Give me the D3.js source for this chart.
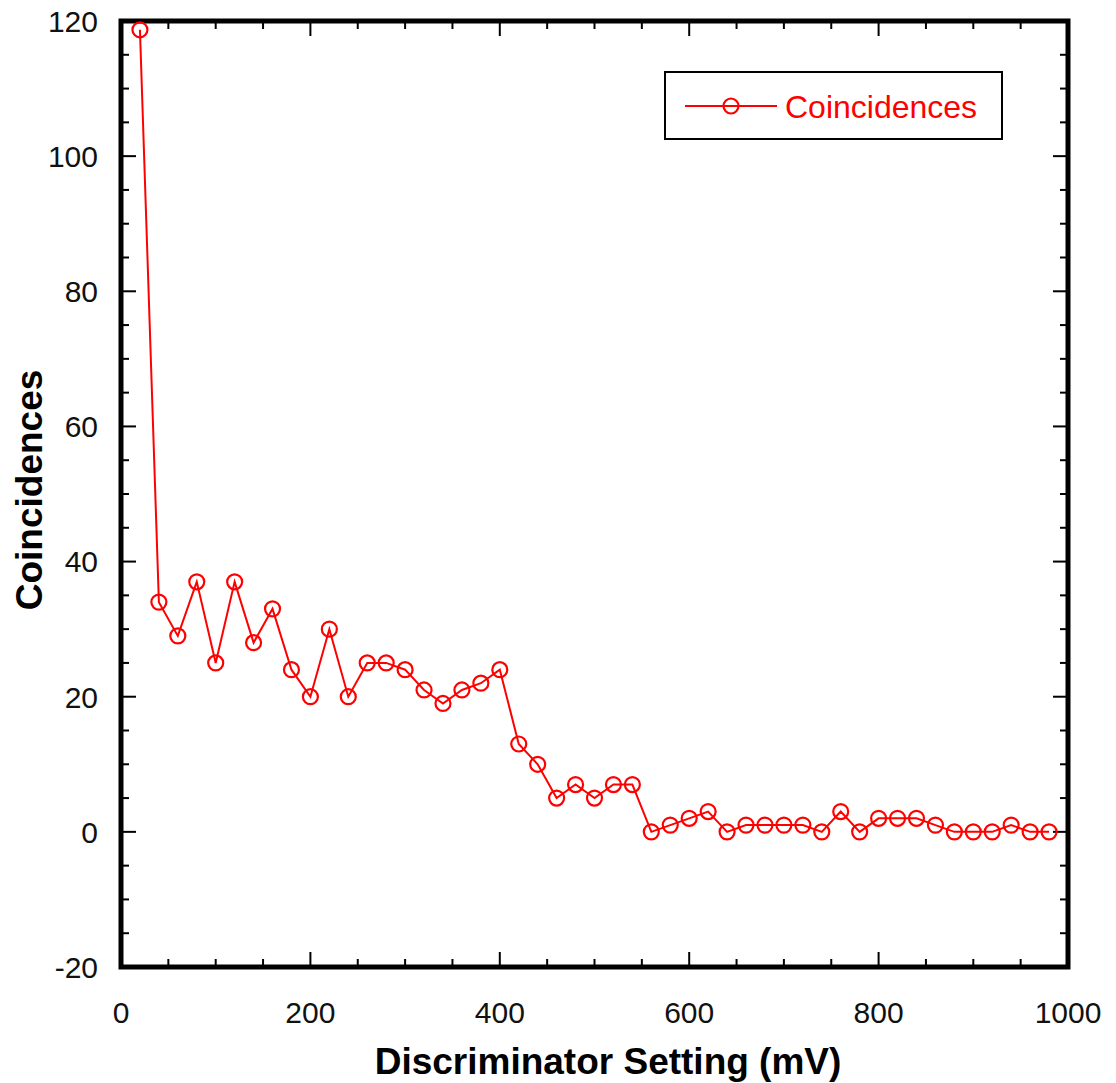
<!DOCTYPE html>
<html>
<head>
<meta charset="utf-8">
<script src="https://cdn.jsdelivr.net/npm/d3@7"></script>
<style>
  body { margin: 0; background: #fff; }
  svg { display: block; font-family: Arial, 'Liberation Sans', sans-serif; }
</style>
</head>
<body>
<div id="chart"></div>
<script>
// data
var settings = [20, 40, 60, 80, 100, 120, 140, 160, 180, 200, 220, 240, 260, 280, 300, 320, 340, 360, 380, 400,
  420, 440, 460, 480, 500, 520, 540, 560, 580, 600, 620, 640, 660, 680, 700, 720, 740, 760, 780, 800,
  820, 840, 860, 880, 900, 920, 940, 960, 980];
var coincidences = [118.7, 34, 29, 37, 25, 37, 28, 33, 24, 20, 30, 20, 25, 25, 24, 21, 19, 21, 22, 24,
  13, 10, 5, 7, 5, 7, 7, 0, 1, 2, 3, 0, 1, 1, 1, 1, 0, 3, 0, 2,
  2, 2, 1, 0, 0, 0, 1, 0, 0];
var xTicks = [0, 200, 400, 600, 800, 1000];
var yTicks = [-20, 0, 20, 40, 60, 80, 100, 120];
var seriesName = 'Coincidences';

var attrs = {
  svgWidth: 1116,
  svgHeight: 1083,
  left: 121,
  right: 1068,
  top: 21,
  bottom: 967,
  red: '#ff0000',
  tickFont: 30,
  titleFont: 37,
  markerR: 7.5
};

var points = settings.map((s, i) => ({ x: s, y: coincidences[i] }));

var svg = d3.select('#chart').append('svg')
  .attr('width', attrs.svgWidth)
  .attr('height', attrs.svgHeight);

var x = d3.scaleLinear().domain([0, 1000]).range([attrs.left, attrs.right]);
var y = d3.scaleLinear().domain([-20, 120]).range([attrs.bottom, attrs.top]);

var xMinor = d3.range(0, 1001, 50);
var yMinor = d3.range(-20, 121, 5);

// ticks inside the frame, on all four sides
var ticks = svg.append('g').attr('stroke', '#000').attr('stroke-width', 2);
xMinor.forEach(v => {
  var len = v % 200 === 0 ? 15 : 8;
  ticks.append('line').attr('x1', x(v)).attr('x2', x(v)).attr('y1', attrs.bottom).attr('y2', attrs.bottom - len);
  ticks.append('line').attr('x1', x(v)).attr('x2', x(v)).attr('y1', attrs.top).attr('y2', attrs.top + len);
});
yMinor.forEach(v => {
  var len = v % 20 === 0 ? 15 : 8;
  ticks.append('line').attr('y1', y(v)).attr('y2', y(v)).attr('x1', attrs.left).attr('x2', attrs.left + len);
  ticks.append('line').attr('y1', y(v)).attr('y2', y(v)).attr('x1', attrs.right).attr('x2', attrs.right - len);
});

// frame
svg.append('rect')
  .attr('x', attrs.left).attr('y', attrs.top)
  .attr('width', attrs.right - attrs.left).attr('height', attrs.bottom - attrs.top)
  .attr('fill', 'none').attr('stroke', '#000').attr('stroke-width', 5);

// tick labels
svg.append('g').selectAll('text').data(xTicks).join('text')
  .attr('x', d => x(d)).attr('y', 1023)
  .attr('text-anchor', 'middle')
  .attr('font-size', attrs.tickFont).attr('fill', '#111')
  .text(d => d);

svg.append('g').selectAll('text').data(yTicks).join('text')
  .attr('x', 98).attr('y', d => y(d)).attr('dy', '0.36em')
  .attr('text-anchor', 'end')
  .attr('font-size', attrs.tickFont).attr('fill', '#111')
  .text(d => d);

// axis titles
svg.append('text')
  .attr('x', 608).attr('y', 1074)
  .attr('text-anchor', 'middle')
  .attr('font-size', attrs.titleFont).attr('font-weight', 'bold')
  .text('Discriminator Setting (mV)');

svg.append('text')
  .attr('transform', 'translate(42,490) rotate(-90)')
  .attr('text-anchor', 'middle')
  .attr('font-size', attrs.titleFont).attr('font-weight', 'bold')
  .text('Coincidences');

// series
var line = d3.line().x(d => x(d.x)).y(d => y(d.y));
svg.append('path').datum(points)
  .attr('d', line)
  .attr('fill', 'none').attr('stroke', attrs.red).attr('stroke-width', 2);

svg.append('g').selectAll('circle').data(points).join('circle')
  .attr('cx', d => x(d.x)).attr('cy', d => y(d.y)).attr('r', attrs.markerR)
  .attr('fill', 'none').attr('stroke', attrs.red).attr('stroke-width', 2.2);

// legend
var legend = svg.append('g');
legend.append('rect')
  .attr('x', 665).attr('y', 72).attr('width', 337).attr('height', 67)
  .attr('fill', '#fff').attr('stroke', '#000').attr('stroke-width', 2);
legend.append('line')
  .attr('x1', 685).attr('x2', 777).attr('y1', 106).attr('y2', 106)
  .attr('stroke', attrs.red).attr('stroke-width', 2);
legend.append('circle')
  .attr('cx', 731).attr('cy', 106).attr('r', attrs.markerR)
  .attr('fill', 'none').attr('stroke', attrs.red).attr('stroke-width', 2.2);
legend.append('text')
  .attr('x', 785).attr('y', 106).attr('dy', '0.36em')
  .attr('font-size', 32).attr('fill', attrs.red)
  .text(seriesName);
</script>
</body>
</html>
